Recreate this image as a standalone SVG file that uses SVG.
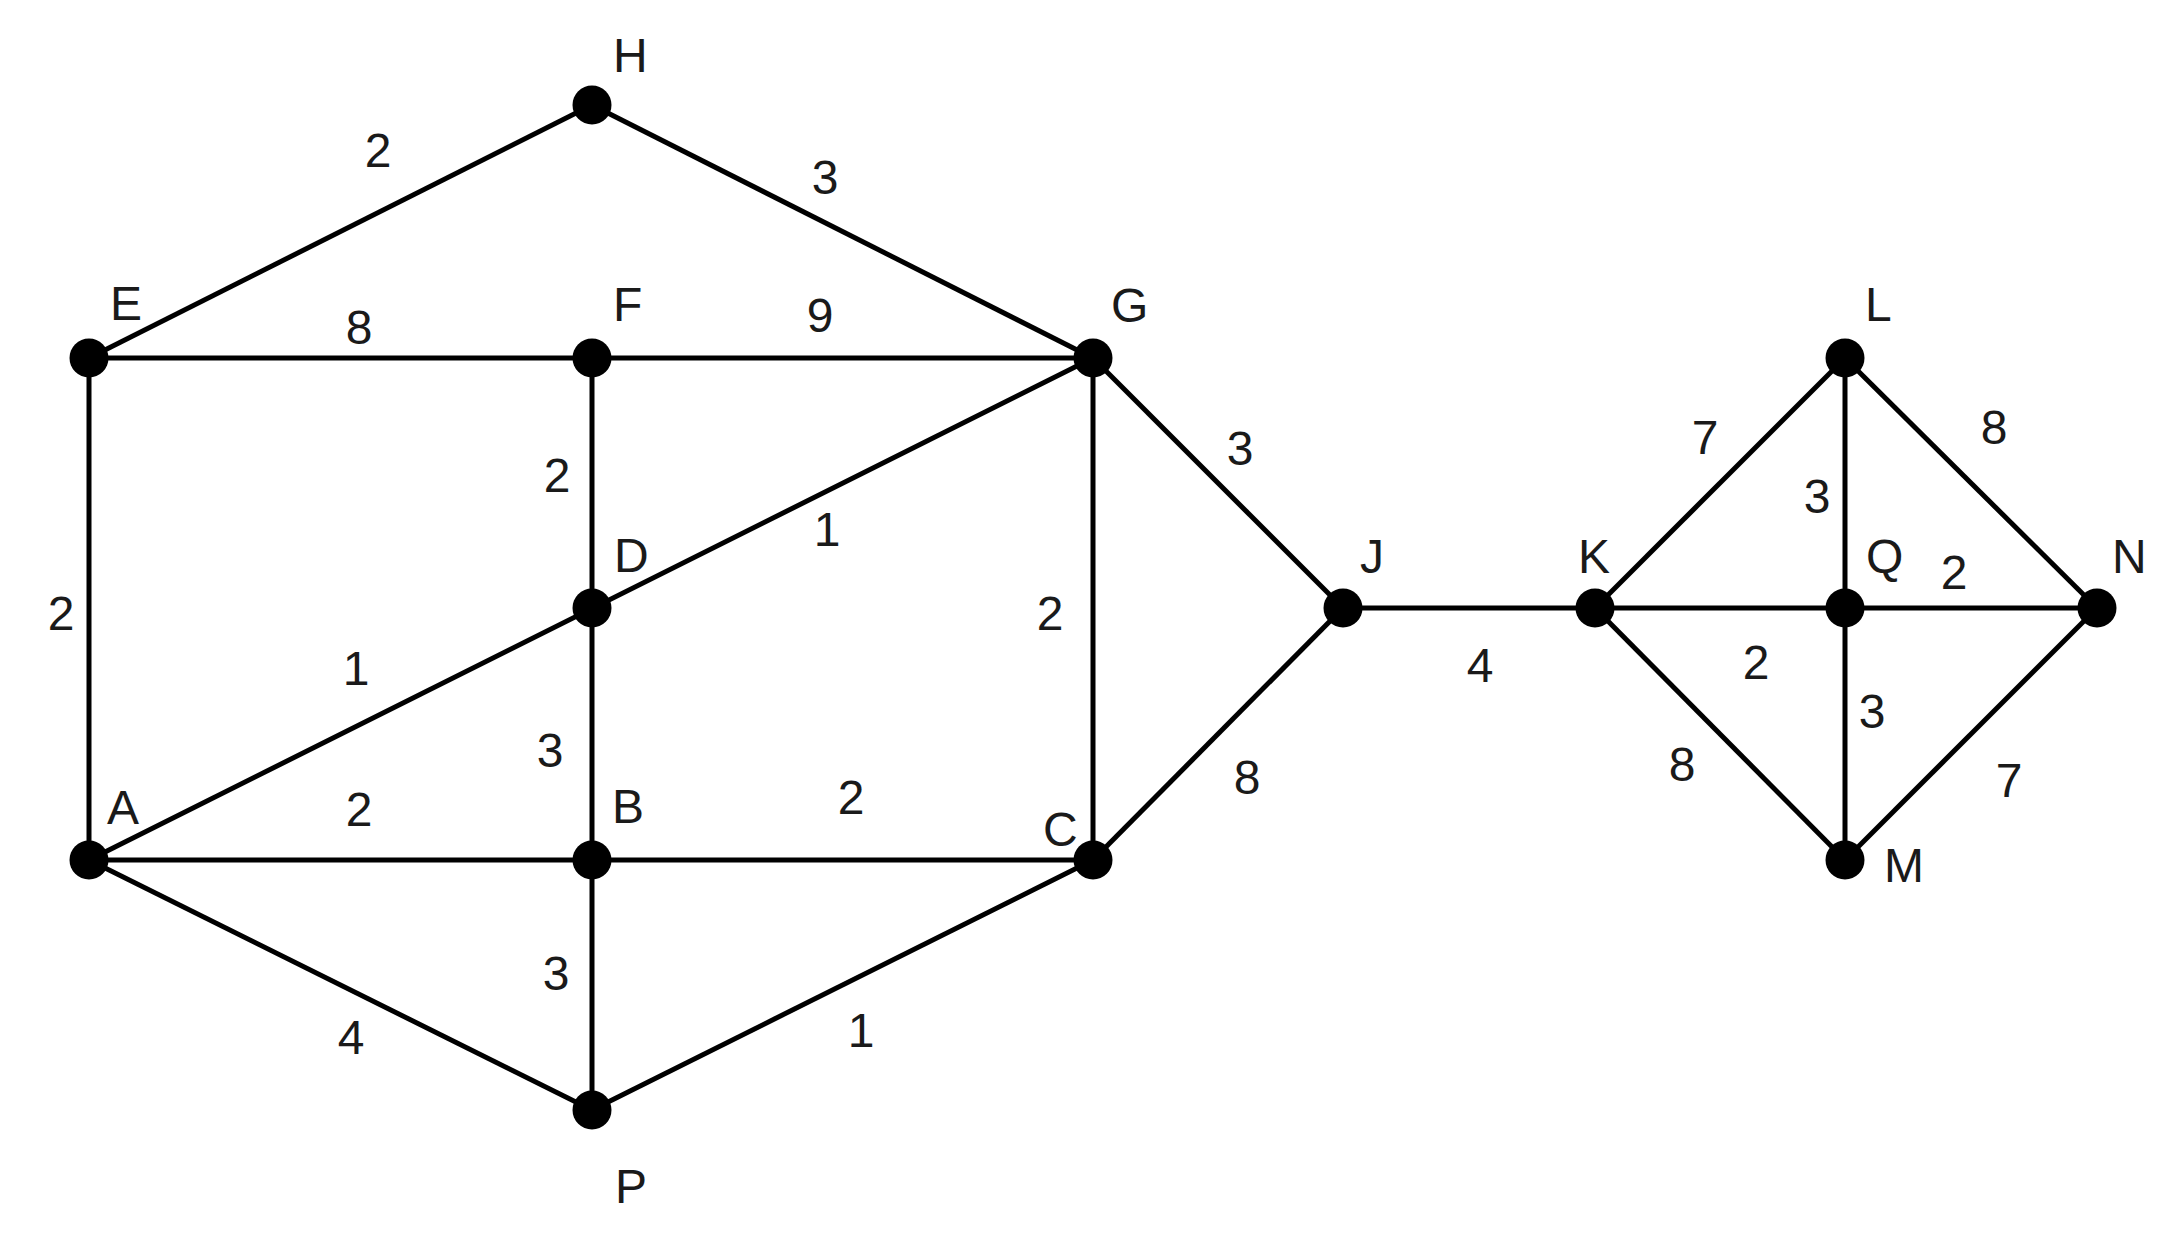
<svg xmlns="http://www.w3.org/2000/svg" width="2173" height="1240" viewBox="0 0 2173 1240">
<style>
.e{stroke:#000;stroke-width:5;fill:none}
.n{fill:#000}
text{font-family:"Liberation Sans",Arial,sans-serif;font-size:48px;fill:#1a1a1a}
.w{text-anchor:middle;dominant-baseline:central}
</style>
<rect width="2173" height="1240" fill="#fff"/>
<g id="edges">
<line class="e" x1="89" y1="358" x2="592" y2="105"/>
<line class="e" x1="592" y1="105" x2="1093" y2="358"/>
<line class="e" x1="89" y1="358" x2="1093" y2="358"/>
<line class="e" x1="89" y1="358" x2="89" y2="860"/>
<line class="e" x1="592" y1="358" x2="592" y2="1110"/>
<line class="e" x1="1093" y1="358" x2="1093" y2="860"/>
<line class="e" x1="89" y1="860" x2="1093" y2="358"/>
<line class="e" x1="89" y1="860" x2="1093" y2="860"/>
<line class="e" x1="89" y1="860" x2="592" y2="1110"/>
<line class="e" x1="592" y1="1110" x2="1093" y2="860"/>
<line class="e" x1="1093" y1="358" x2="1343" y2="608"/>
<line class="e" x1="1093" y1="860" x2="1343" y2="608"/>
<line class="e" x1="1343" y1="608" x2="2097" y2="608"/>
<line class="e" x1="1595" y1="608" x2="1845" y2="358"/>
<line class="e" x1="1595" y1="608" x2="1845" y2="860"/>
<line class="e" x1="1845" y1="358" x2="2097" y2="608"/>
<line class="e" x1="1845" y1="860" x2="2097" y2="608"/>
<line class="e" x1="1845" y1="358" x2="1845" y2="860"/>
</g>
<g id="weights">
<text class="w" x="378" y="150">2</text>
<text class="w" x="825" y="177">3</text>
<text class="w" x="359" y="327">8</text>
<text class="w" x="820" y="315">9</text>
<text class="w" x="61" y="613">2</text>
<text class="w" x="557" y="475">2</text>
<text class="w" x="827" y="529">1</text>
<text class="w" x="1050" y="613">2</text>
<text class="w" x="356" y="668">1</text>
<text class="w" x="550" y="750">3</text>
<text class="w" x="359" y="809">2</text>
<text class="w" x="851" y="797">2</text>
<text class="w" x="1240" y="448">3</text>
<text class="w" x="1247" y="777">8</text>
<text class="w" x="556" y="973">3</text>
<text class="w" x="351" y="1037">4</text>
<text class="w" x="861" y="1030">1</text>
<text class="w" x="1480" y="665">4</text>
<text class="w" x="1705" y="437">7</text>
<text class="w" x="1994" y="427">8</text>
<text class="w" x="1817" y="496">3</text>
<text class="w" x="1954" y="572">2</text>
<text class="w" x="1756" y="662">2</text>
<text class="w" x="1872" y="711">3</text>
<text class="w" x="1682" y="764">8</text>
<text class="w" x="2009" y="780">7</text>
</g>
<g id="node-H"><circle class="n" cx="592" cy="105" r="19.5"/><text x="613" y="72">H</text></g>
<g id="node-E"><circle class="n" cx="89" cy="358" r="19.5"/><text x="110" y="320">E</text></g>
<g id="node-F"><circle class="n" cx="592" cy="358" r="19.5"/><text x="613" y="321">F</text></g>
<g id="node-G"><circle class="n" cx="1093" cy="358" r="19.5"/><text x="1111" y="322">G</text></g>
<g id="node-D"><circle class="n" cx="592" cy="608" r="19.5"/><text x="614" y="572">D</text></g>
<g id="node-A"><circle class="n" cx="89" cy="860" r="19.5"/><text x="107" y="824">A</text></g>
<g id="node-B"><circle class="n" cx="592" cy="860" r="19.5"/><text x="612" y="823">B</text></g>
<g id="node-C"><circle class="n" cx="1093" cy="860" r="19.5"/><text x="1043" y="846">C</text></g>
<g id="node-P"><circle class="n" cx="592" cy="1110" r="19.5"/><text x="615" y="1203">P</text></g>
<g id="node-J"><circle class="n" cx="1343" cy="608" r="19.5"/><text x="1360" y="573">J</text></g>
<g id="node-K"><circle class="n" cx="1595" cy="608" r="19.5"/><text x="1578" y="573">K</text></g>
<g id="node-Q"><circle class="n" cx="1845" cy="608" r="19.5"/><text x="1866" y="573">Q</text></g>
<g id="node-N"><circle class="n" cx="2097" cy="608" r="19.5"/><text x="2112" y="573">N</text></g>
<g id="node-L"><circle class="n" cx="1845" cy="358" r="19.5"/><text x="1865" y="321">L</text></g>
<g id="node-M"><circle class="n" cx="1845" cy="860" r="19.5"/><text x="1884" y="882">M</text></g>
</svg>
